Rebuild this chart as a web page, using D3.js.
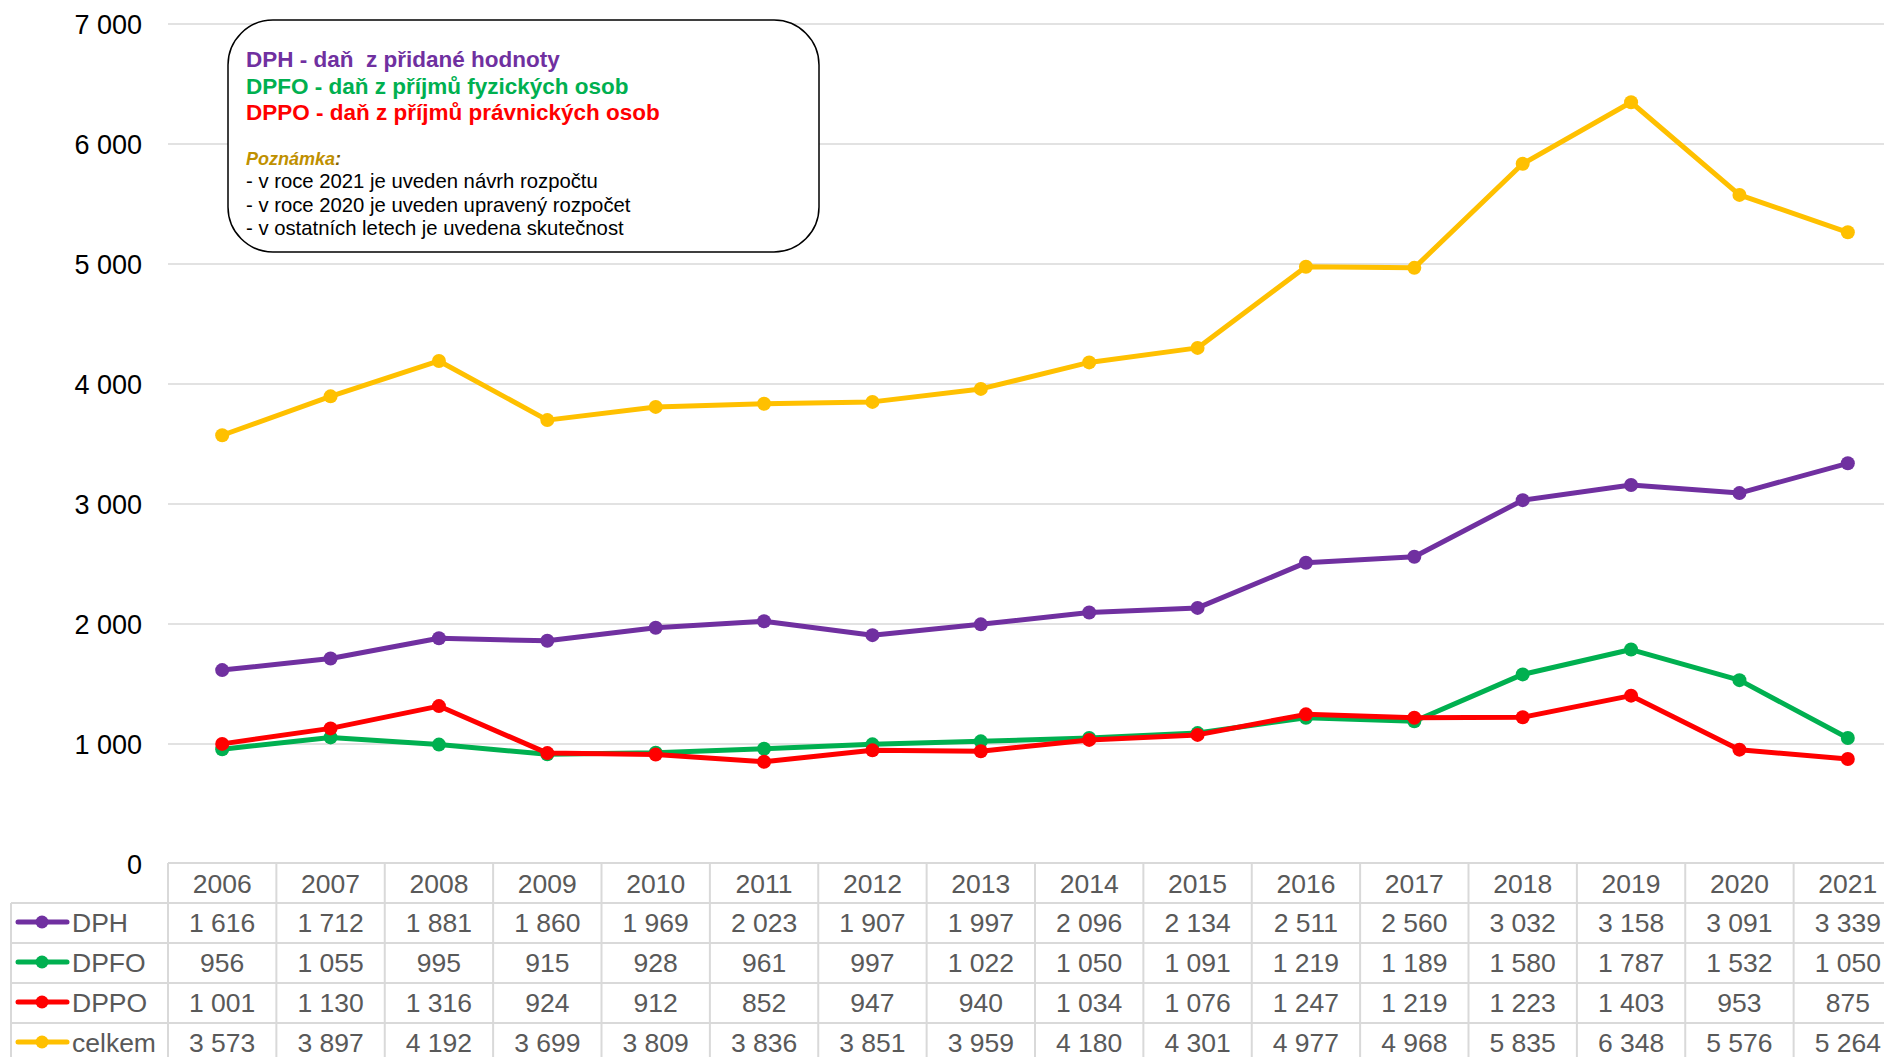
<!DOCTYPE html>
<html>
<head>
<meta charset="utf-8">
<script src="https://cdn.jsdelivr.net/npm/d3@7"></script>
<style>
  body { margin: 0; background: #fff; }
  svg { display: block; font-family: "Liberation Sans", Arial, sans-serif; }
</style>
</head>
<body>
<svg id="chart" width="1884" height="1057"></svg>
<script>
// data
var years = ["2006","2007","2008","2009","2010","2011","2012","2013","2014","2015","2016","2017","2018","2019","2020","2021"];
var dph    = [1616, 1712, 1881, 1860, 1969, 2023, 1907, 1997, 2096, 2134, 2511, 2560, 3032, 3158, 3091, 3339];
var dpfo   = [956, 1055, 995, 915, 928, 961, 997, 1022, 1050, 1091, 1219, 1189, 1580, 1787, 1532, 1050];
var dppo   = [1001, 1130, 1316, 924, 912, 852, 947, 940, 1034, 1076, 1247, 1219, 1223, 1403, 953, 875];
var celkem = [3573, 3897, 4192, 3699, 3809, 3836, 3851, 3959, 4180, 4301, 4977, 4968, 5835, 6348, 5576, 5264];
var yTicks = [0, 1000, 2000, 3000, 4000, 5000, 6000, 7000];

var seriesNames  = ["DPH", "DPFO", "DPPO", "celkem"];
var seriesColors = ["#7030a0", "#00b050", "#ff0000", "#ffc000"];
var seriesValues = [dph, dpfo, dppo, celkem];

var legendLines = [
  {text: "DPH - daň  z přidané hodnoty", color: "#7030a0"},
  {text: "DPFO - daň z příjmů fyzických osob", color: "#00b050"},
  {text: "DPPO - daň z příjmů právnických osob", color: "#ff0000"}
];
var noteTitle = "Poznámka";
var noteLines = [
  "- v roce 2021 je uveden návrh rozpočtu",
  "- v roce 2020 je uveden upravený rozpočet",
  "- v ostatních letech je uvedena skutečnost"
];

var W = 1884, H = 1057;
var svg = d3.select("#chart");

var cz = d3.formatLocale({decimal: ",", thousands: "\u00a0", grouping: [3], currency: ["", " Kč"]});
var fmt = cz.format(",d");

var x = d3.scaleBand().domain(years).range([168, 1902]).padding(0);
var y = d3.scaleLinear().domain([0, 7000]).range([864, 24]);
var cx = function(yr){ return x(yr) + x.bandwidth() / 2; };

// gridlines
svg.append("g")
  .selectAll("line")
  .data(yTicks.filter(function(d){ return d > 0; }))
  .enter().append("line")
  .attr("x1", 168).attr("x2", W)
  .attr("y1", function(d){ return y(d); })
  .attr("y2", function(d){ return y(d); })
  .style("stroke", "#d9d9d9")
  .style("stroke-width", 1.5);

// y axis labels
svg.append("g")
  .selectAll("text")
  .data(yTicks)
  .enter().append("text")
  .attr("x", 142)
  .attr("y", function(d){ return y(d) + 10; })
  .attr("text-anchor", "end")
  .style("font-size", "27px")
  .style("fill", "#000")
  .text(function(d){ return fmt(d); });

// legend box (drawn before the lines, they do not cross it)
var box = svg.append("g");
box.append("rect")
  .attr("x", 228).attr("y", 20)
  .attr("width", 591).attr("height", 232)
  .attr("rx", 45).attr("ry", 45)
  .style("fill", "#fff")
  .style("stroke", "#000")
  .style("stroke-width", 1.5);

box.selectAll("text.leg")
  .data(legendLines)
  .enter().append("text")
  .attr("class", "leg")
  .attr("x", 246)
  .attr("y", function(d, i){ return 67 + i * 26.5; })
  .style("font-size", "22.5px")
  .style("font-weight", "bold")
  .style("fill", function(d){ return d.color; })
  .style("white-space", "pre")
  .text(function(d){ return d.text; });

var nt = box.append("text")
  .attr("x", 246).attr("y", 165)
  .style("font-size", "18px")
  .style("font-weight", "bold")
  .style("font-style", "italic")
  .style("fill", "#bf9000");
nt.append("tspan").text(noteTitle);
nt.append("tspan").style("fill", "#7f6000").text(":");

box.selectAll("text.note")
  .data(noteLines)
  .enter().append("text")
  .attr("class", "note")
  .attr("x", 246)
  .attr("y", function(d, i){ return 188 + i * 23.5; })
  .style("font-size", "20.3px")
  .style("fill", "#000")
  .text(function(d){ return d; });

// series lines and markers
var line = d3.line()
  .x(function(d, i){ return cx(years[i]); })
  .y(function(d){ return y(d); });

var order = [3, 0, 1, 2];
order.forEach(function(s){
  var g = svg.append("g");
  g.append("path")
    .datum(seriesValues[s])
    .attr("d", line)
    .style("fill", "none")
    .style("stroke", seriesColors[s])
    .style("stroke-width", 5)
    .style("stroke-linejoin", "round");
  g.selectAll("circle")
    .data(seriesValues[s])
    .enter().append("circle")
    .attr("cx", function(d, i){ return cx(years[i]); })
    .attr("cy", function(d){ return y(d); })
    .attr("r", 7)
    .style("fill", seriesColors[s]);
});

// data table
var rowH = 40, top0 = 863;
var tbl = svg.append("g");
var gridStyle = function(sel){
  sel.style("stroke", "#d9d9d9").style("stroke-width", 2);
};

// horizontal rules
tbl.append("line").attr("x1", 168).attr("x2", W).attr("y1", top0).attr("y2", top0).call(gridStyle);
d3.range(1, 6).forEach(function(r){
  tbl.append("line").attr("x1", 11).attr("x2", W)
    .attr("y1", top0 + r * rowH).attr("y2", top0 + r * rowH).call(gridStyle);
});
// vertical rules
tbl.append("line").attr("x1", 11).attr("x2", 11).attr("y1", top0 + rowH).attr("y2", H).call(gridStyle);
tbl.selectAll("line.col")
  .data(years)
  .enter().append("line")
  .attr("class", "col")
  .attr("x1", function(d){ return x(d); })
  .attr("x2", function(d){ return x(d); })
  .attr("y1", top0).attr("y2", H)
  .call(gridStyle);

// year headers
tbl.selectAll("text.yr")
  .data(years)
  .enter().append("text")
  .attr("class", "yr")
  .attr("x", function(d){ return cx(d); })
  .attr("y", top0 + 30)
  .attr("text-anchor", "middle")
  .style("font-size", "26.5px")
  .style("fill", "#595959")
  .text(function(d){ return d; });

// rows
seriesNames.forEach(function(name, s){
  var rowY = top0 + (s + 1) * rowH;
  var key = tbl.append("g");
  key.append("line")
    .attr("x1", 18).attr("x2", 67)
    .attr("y1", rowY + 19).attr("y2", rowY + 19)
    .style("stroke", seriesColors[s])
    .style("stroke-width", 5)
    .style("stroke-linecap", "round");
  key.append("circle")
    .attr("cx", 42).attr("cy", rowY + 19).attr("r", 6.5)
    .style("fill", seriesColors[s]);
  key.append("text")
    .attr("x", 72).attr("y", rowY + 29)
    .style("font-size", "26.5px")
    .style("fill", "#595959")
    .text(name);

  tbl.selectAll("text.v" + s)
    .data(seriesValues[s])
    .enter().append("text")
    .attr("class", "v" + s)
    .attr("x", function(d, i){ return cx(years[i]); })
    .attr("y", rowY + 29)
    .attr("text-anchor", "middle")
    .style("font-size", "26.5px")
    .style("fill", "#595959")
    .text(function(d){ return fmt(d); });
});
</script>
</body>
</html>
